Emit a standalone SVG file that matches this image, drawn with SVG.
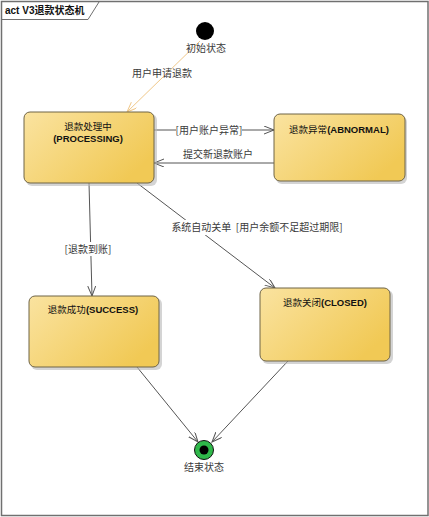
<svg xmlns="http://www.w3.org/2000/svg" width="429" height="517" viewBox="0 0 429 517">
<style>
.lbl{font-family:"Noto Sans CJK SC","Liberation Sans",sans-serif;font-size:10px;fill:#3a3a3a}
.ttl{font-family:"Liberation Sans","Noto Sans CJK SC",sans-serif;font-size:9.5px;fill:#111}
.ttl .b{font-weight:bold}
.box{fill:url(#g);stroke:#6f6446;stroke-width:1}
.shd{fill:#b8b8b8;opacity:0.6}
.con{stroke:#555;stroke-width:1;fill:none}
.bg{fill:#fff}
</style>
<defs>
<linearGradient id="g" x1="0" y1="0" x2="1" y2="0.6">
<stop offset="0" stop-color="#fae3a0"/>
<stop offset="1" stop-color="#f1c955"/>
</linearGradient>
<marker id="a" markerUnits="userSpaceOnUse" markerWidth="12" markerHeight="10" refX="10" refY="4" orient="auto">
<path d="M0,0 L10,4 L0,8" fill="none" stroke="#555" stroke-width="1"/>
</marker>
<marker id="ai" markerUnits="userSpaceOnUse" markerWidth="12" markerHeight="10" refX="10" refY="4" orient="auto">
<path d="M0,0 L10,4 L0,8" fill="none" stroke="#f0c88a" stroke-width="1"/>
</marker>
</defs>
<rect x="0" y="0" width="429" height="517" fill="#fff"/>
<g id="frame">
<rect x="1.5" y="1.5" width="426.5" height="514" fill="none" stroke="#707070" stroke-width="1.5"/>
<path d="M1.5,19.5 H88 L99,2" fill="none" stroke="#707070" stroke-width="1"/>
<text x="5" y="14" font-family="Liberation Sans,Noto Sans CJK SC,sans-serif" font-size="10" font-weight="bold" fill="#111">act V3退款状态机</text>
</g>
<g id="connectors">
<path class="con" d="M200,41 L127,112" stroke="#f0c88a" style="stroke:#f0c88a" marker-end="url(#ai)"/>
<path class="con" d="M154,130 L274,130" marker-end="url(#a)"/>
<path class="con" d="M274,163 L154,163" marker-end="url(#a)"/>
<path class="con" d="M89,183 L92,296" marker-end="url(#a)"/>
<path class="con" d="M137,183 L275,288" marker-end="url(#a)"/>
<path class="con" d="M137,367 L198,442" marker-end="url(#a)"/>
<path class="con" d="M288,361 L212,442" marker-end="url(#a)"/>
<text class="lbl" x="162" y="77" text-anchor="middle">用户申请退款</text>
<rect class="bg" x="176" y="123" width="66" height="14"/>
<text class="lbl" x="209" y="134" text-anchor="middle">[用户账户异常]</text>
<text class="lbl" x="218" y="158" text-anchor="middle">提交新退款账户</text>
<rect class="bg" x="64" y="242" width="47" height="14"/>
<text class="lbl" x="88" y="253" text-anchor="middle">[退款到账]</text>
<rect class="bg" x="172" y="220" width="170" height="15"/>
<text class="lbl" x="257" y="231" text-anchor="middle" xml:space="preserve">系统自动关单  [用户余额不足超过期限]</text>
</g>
<g id="start">
<circle cx="205" cy="31" r="9" fill="#000"/>
<text class="lbl" x="206" y="52" text-anchor="middle">初始状态</text>
</g>
<g id="processing">
<rect class="shd" x="26" y="114" width="131" height="72" rx="6"/>
<rect class="box" x="24" y="112" width="130" height="71" rx="6"/>
<text class="ttl" x="88" y="130" text-anchor="middle">退款处理中</text>
<text class="ttl" x="88" y="142" text-anchor="middle"><tspan class="b">(PROCESSING)</tspan></text>
</g>
<g id="abnormal">
<rect class="shd" x="276" y="116" width="131" height="68" rx="6"/>
<rect class="box" x="274" y="114" width="131" height="67" rx="6"/>
<text class="ttl" x="339" y="133" text-anchor="middle">退款异常<tspan class="b">(ABNORMAL)</tspan></text>
</g>
<g id="success">
<rect class="shd" x="31" y="298" width="131" height="72" rx="6"/>
<rect class="box" x="29" y="296" width="130" height="71" rx="6"/>
<text class="ttl" x="93" y="313" text-anchor="middle">退款成功<tspan class="b">(SUCCESS)</tspan></text>
</g>
<g id="closed">
<rect class="shd" x="262" y="290" width="131" height="74" rx="6"/>
<rect class="box" x="260" y="288" width="130" height="73" rx="6"/>
<text class="ttl" x="325" y="306" text-anchor="middle">退款关闭<tspan class="b">(CLOSED)</tspan></text>
</g>
<g id="end">
<circle cx="204" cy="450" r="9.5" fill="#2fb84a" stroke="#111" stroke-width="1"/>
<circle cx="204" cy="450" r="4.5" fill="#000"/>
<text class="lbl" x="204" y="471" text-anchor="middle">结束状态</text>
</g>
</svg>
